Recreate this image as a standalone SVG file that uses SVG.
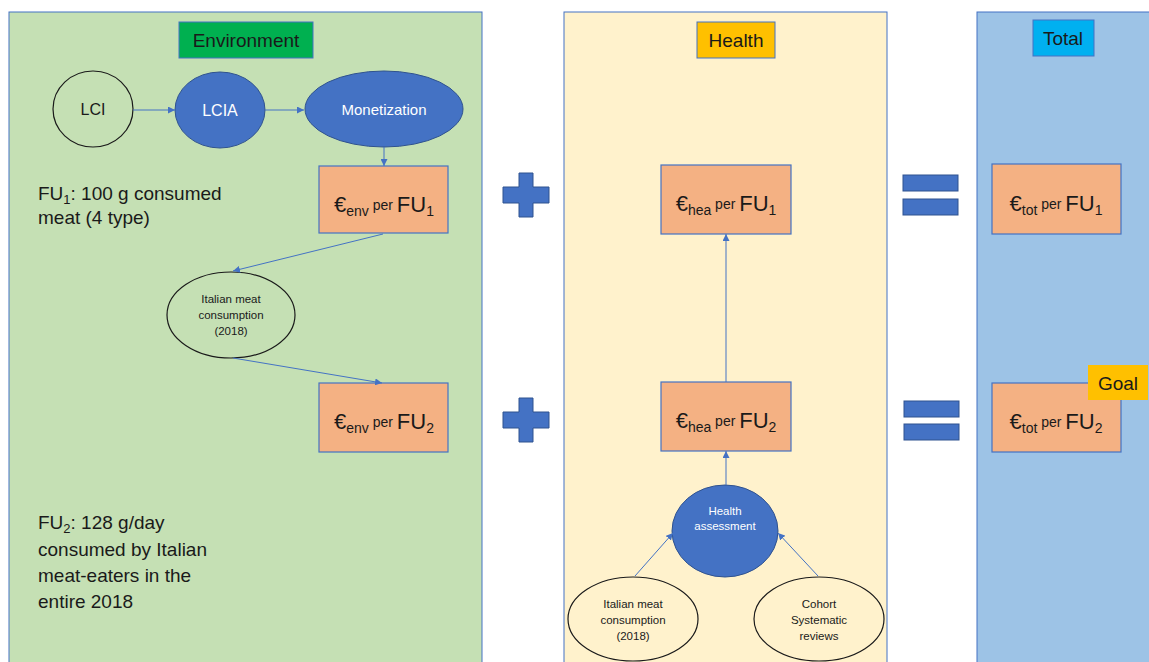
<svg xmlns="http://www.w3.org/2000/svg" width="1149" height="662" viewBox="0 0 1149 662">
<defs>
<marker id="ah" viewBox="0 0 10 10" refX="10" refY="5" markerWidth="7" markerHeight="7" markerUnits="userSpaceOnUse" orient="auto">
<path d="M0,0 L10,5 L0,10 z" fill="#4472C4"/>
</marker>
</defs>
<style>
text{font-family:"Liberation Sans","Open Sans",sans-serif;fill:#1a1a1a}
.panel{stroke:#4472C4;stroke-width:1}
.box{fill:#F4B183;stroke:#4472C4;stroke-width:1.2}
.blue{fill:#4472C4;stroke:#2F528F;stroke-width:1}
.white{fill:none;stroke:#1a1a1a;stroke-width:1.2}
.conn{stroke:#4472C4;stroke-width:1;fill:none;marker-end:url(#ah)}
.sym{fill:#4472C4;stroke:#2F528F;stroke-width:1}
.big{font-size:22px}
.sm{font-size:14px}
.wt{fill:#ffffff}
.small{font-size:11.5px}
.label{font-size:19px}
.note{font-size:19px}
</style>
<rect class="panel" x="9" y="12" width="473" height="660" fill="#C5E0B4"/>
<rect class="panel" x="564" y="12" width="323" height="660" fill="#FFF2CC"/>
<rect class="panel" x="977" y="12" width="180" height="660" fill="#9DC3E6"/>

<g id="env-title">
<rect x="179" y="22" width="134" height="36" fill="#00B050" stroke="#4472C4" stroke-width="1"/>
<text class="label" x="246" y="47" text-anchor="middle">Environment</text>
</g>
<g id="health-title">
<rect x="697" y="22" width="78" height="36" fill="#FFC000" stroke="#4472C4" stroke-width="1"/>
<text class="label" x="736" y="47" text-anchor="middle">Health</text>
</g>
<g id="total-title">
<rect x="1033" y="20" width="61" height="36" fill="#00B0F0" stroke="#4472C4" stroke-width="1"/>
<text class="label" x="1063" y="45" text-anchor="middle">Total</text>
</g>

<g id="lci">
<ellipse class="white" cx="93" cy="109" rx="40" ry="38"/>
<text x="93" y="115" text-anchor="middle" font-size="16">LCI</text>
</g>
<g id="lcia">
<ellipse class="blue" cx="220" cy="110" rx="45" ry="38"/>
<text class="wt" x="220" y="116" text-anchor="middle" font-size="16">LCIA</text>
</g>
<g id="monetization">
<ellipse class="blue" cx="384" cy="109" rx="79" ry="38"/>
<text class="wt" x="384" y="115" text-anchor="middle" font-size="15">Monetization</text>
</g>

<g id="fu1-note">
<text class="note" x="38" y="200">FU<tspan font-size="13" dy="4">1</tspan><tspan dy="-4">: 100 g consumed</tspan></text>
<text class="note" x="38" y="224">meat (4 type)</text>
</g>

<g id="env-fu1">
<rect class="box" x="319" y="166" width="129" height="67"/>
<text x="384" y="212" text-anchor="middle"><tspan class="big">€</tspan><tspan class="sm" dy="4">env</tspan><tspan class="sm" dy="-6"> per </tspan><tspan class="big" dy="2">FU</tspan><tspan class="sm" dy="4">1</tspan></text>
</g>

<g id="italian-env">
<ellipse class="white" cx="231" cy="315" rx="64" ry="43"/>
<text class="small" x="231" y="303" text-anchor="middle">Italian meat</text>
<text class="small" x="231" y="319" text-anchor="middle">consumption</text>
<text class="small" x="231" y="335" text-anchor="middle">(2018)</text>
</g>

<g id="env-fu2">
<rect class="box" x="319" y="383" width="129" height="69"/>
<text x="384" y="429" text-anchor="middle"><tspan class="big">€</tspan><tspan class="sm" dy="4">env</tspan><tspan class="sm" dy="-6"> per </tspan><tspan class="big" dy="2">FU</tspan><tspan class="sm" dy="4">2</tspan></text>
</g>

<g id="fu2-note">
<text class="note" x="38" y="529">FU<tspan font-size="13" dy="4">2</tspan><tspan dy="-4">: 128 g/day</tspan></text>
<text class="note" x="38" y="556">consumed by Italian</text>
<text class="note" x="38" y="582">meat-eaters in the</text>
<text class="note" x="38" y="608">entire 2018</text>
</g>

<g id="plus1"><path class="sym" d="M519,173 H533 V187 H549 V203 H533 V217 H519 V203 H503 V187 H519 Z"/></g>
<g id="plus2"><path class="sym" d="M519,398 H533 V412 H549 V428 H533 V442 H519 V428 H503 V412 H519 Z"/></g>

<g id="hea-fu1">
<rect class="box" x="661" y="165" width="130" height="69"/>
<text x="726" y="211" text-anchor="middle"><tspan class="big">€</tspan><tspan class="sm" dy="4">hea</tspan><tspan class="sm" dy="-6"> per </tspan><tspan class="big" dy="2">FU</tspan><tspan class="sm" dy="4">1</tspan></text>
</g>
<g id="hea-fu2">
<rect class="box" x="661" y="382" width="130" height="69"/>
<text x="726" y="428" text-anchor="middle"><tspan class="big">€</tspan><tspan class="sm" dy="4">hea</tspan><tspan class="sm" dy="-6"> per </tspan><tspan class="big" dy="2">FU</tspan><tspan class="sm" dy="4">2</tspan></text>
</g>

<g id="health-assessment">
<ellipse class="blue" cx="725" cy="531" rx="53" ry="46"/>
<text class="small wt" x="725" y="515" text-anchor="middle">Health</text>
<text class="small wt" x="725" y="530" text-anchor="middle">assessment</text>
</g>
<g id="italian-hea">
<ellipse class="white" cx="633" cy="619" rx="65" ry="42"/>
<text class="small" x="633" y="608" text-anchor="middle">Italian meat</text>
<text class="small" x="633" y="624" text-anchor="middle">consumption</text>
<text class="small" x="633" y="640" text-anchor="middle">(2018)</text>
</g>
<g id="cohort">
<ellipse class="white" cx="819" cy="619" rx="65" ry="42"/>
<text class="small" x="819" y="608" text-anchor="middle">Cohort</text>
<text class="small" x="819" y="624" text-anchor="middle">Systematic</text>
<text class="small" x="819" y="640" text-anchor="middle">reviews</text>
</g>

<g id="eq1">
<rect class="sym" x="903" y="175" width="55" height="16"/>
<rect class="sym" x="903" y="199" width="55" height="16"/>
</g>
<g id="eq2">
<rect class="sym" x="904" y="401" width="55" height="16"/>
<rect class="sym" x="904" y="424" width="55" height="16"/>
</g>

<g id="tot-fu1">
<rect class="box" x="992" y="164" width="129" height="70"/>
<text x="1056" y="211" text-anchor="middle"><tspan class="big">€</tspan><tspan class="sm" dy="4">tot</tspan><tspan class="sm" dy="-6"> per </tspan><tspan class="big" dy="2">FU</tspan><tspan class="sm" dy="4">1</tspan></text>
</g>
<g id="tot-fu2">
<rect class="box" x="992" y="383" width="129" height="69"/>
<text x="1056" y="429" text-anchor="middle"><tspan class="big">€</tspan><tspan class="sm" dy="4">tot</tspan><tspan class="sm" dy="-6"> per </tspan><tspan class="big" dy="2">FU</tspan><tspan class="sm" dy="4">2</tspan></text>
</g>
<g id="goal">
<rect x="1088" y="365" width="60" height="35" fill="#FFC000"/>
<text class="label" x="1118" y="390" text-anchor="middle">Goal</text>
</g>

<g id="connectors">
<line class="conn" x1="133" y1="110" x2="175" y2="110"/>
<line class="conn" x1="265" y1="110" x2="304" y2="110"/>
<line class="conn" x1="384" y1="147" x2="384" y2="166"/>
<line class="conn" x1="383" y1="234" x2="233" y2="271"/>
<line class="conn" x1="233" y1="358" x2="382" y2="383"/>
<line class="conn" x1="726" y1="485" x2="726" y2="451"/>
<line class="conn" x1="726" y1="382" x2="726" y2="234"/>
<line class="conn" x1="635" y1="576" x2="673" y2="533"/>
<line class="conn" x1="818" y1="576" x2="778" y2="533"/>
</g>
</svg>
